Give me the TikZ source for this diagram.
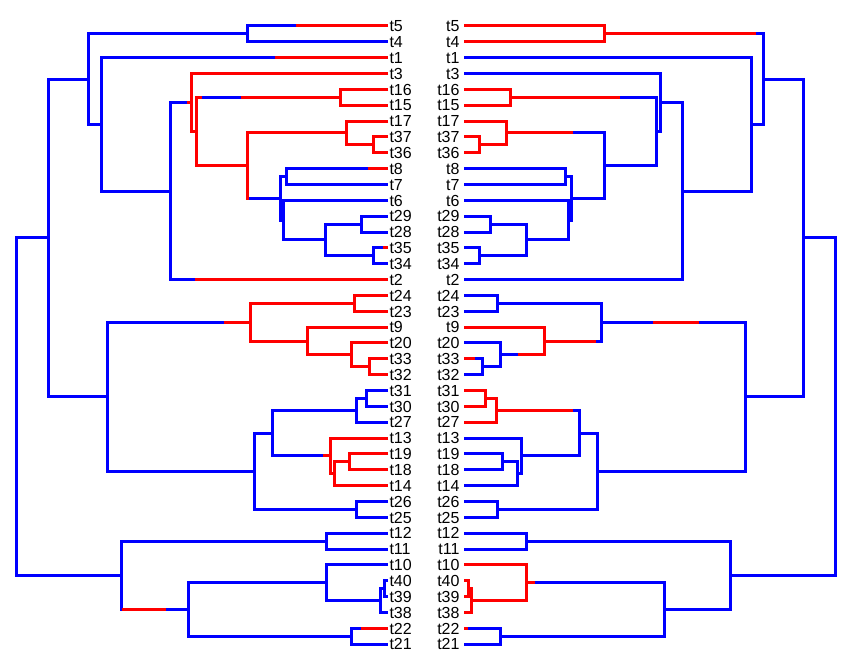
\documentclass[tikz,border=0pt]{standalone}
\usepackage{fontspec}
\setmainfont{Liberation Sans}
\usepackage{xcolor}
\usepackage{tikz}
\usetikzlibrary{calc}

\tikzset{
  br/.style={line width=3pt},
  lab/.style={font=\fontsize{16}{16}\selectfont, inner ysep=0pt, outer sep=0pt, text height=11.46pt, text depth=0pt},
}
% one internal node: child a, vertical bar, child b
\newcommand{\fork}[4]{\draw[br,#1] (#3) -- (#2 |- #3) -- (#2 |- #4) -- (#4);}

\begin{document}
\begin{tikzpicture}[x=1pt,y=-15.85pt]
	\useasboundingbox (0,-1.6404) rectangle (852,40.6940);
	% tip labels, both trees
	\foreach \tp [count=\i from 0] in {t5,t4,t1,t3,t16,t15,t17,t37,t36,t8,t7,t6,t29,t28,t35,t34,t2,t24,t23,t9,t20,t33,t32,t31,t30,t27,t13,t19,t18,t14,t26,t25,t12,t11,t10,t40,t39,t38,t22,t21}{
		\node[lab,anchor=west,inner xsep=1.5pt] (l\tp) at (388,\i) {\tp};
		\node[lab,anchor=east,inner xsep=4.5pt] (r\tp) at (464,\i) {\tp};
	}
	% left tree
	\coordinate (lroot) at (16.7,24.0142);
	\coordinate (lV) at (48.7,13.3721);
	\coordinate (lC) at (88,3.3535);
	\coordinate (l54) at (247,0.5);
	\coordinate (lB) at (101,6.2070);
	\coordinate (lX) at (170.7,10.4141);
	\coordinate (lG) at (191.7,4.8281);
	\coordinate (lH) at (196.7,6.6563);
	\coordinate (l1615) at (340.7,4.5);
	\coordinate (lM) at (247.3,8.8125);
	\coordinate (lN) at (346,6.75);
	\coordinate (l3736) at (373.3,7.5);
	\coordinate (lP) at (280,10.875);
	\coordinate (l87) at (286,9.5);
	\coordinate (lQ) at (283.3,12.25);
	\coordinate (lR) at (325,13.5);
	\coordinate (l2928) at (361,12.5);
	\coordinate (l3534) at (373.3,14.5);
	\coordinate (lU) at (107.3,23.3906);
	\coordinate (lS) at (250,18.6875);
	\coordinate (l2423) at (354.3,17.5);
	\coordinate (l9) at (307.3,19.875);
	\coordinate (l20) at (351,20.75);
	\coordinate (l3332) at (369.3,21.5);
	\coordinate (lT) at (254,28.0938);
	\coordinate (lW) at (272.7,25.6875);
	\coordinate (l27) at (356.7,24.25);
	\coordinate (l3130) at (366.7,23.5);
	\coordinate (l13) at (330,27.125);
	\coordinate (l14) at (334.3,28.25);
	\coordinate (l1918) at (349.3,27.5);
	\coordinate (l2625) at (356,30.5);
	\coordinate (lZ) at (121.7,34.6563);
	\coordinate (l1211) at (326,32.5);
	\coordinate (lY) at (188.3,36.8125);
	\coordinate (l10) at (326,35.125);
	\coordinate (l38) at (380.7,36.25);
	\coordinate (l4039) at (384,35.5);
	\coordinate (l2221) at (351.7,38.5);
	% right tree
	\coordinate (rroot) at (835,24.0142);
	\coordinate (rV) at (803.3,13.3721);
	\coordinate (rC) at (763.3,3.3535);
	\coordinate (r54) at (604.3,0.5);
	\coordinate (rB) at (751,6.2070);
	\coordinate (rX) at (682.3,10.4141);
	\coordinate (rG) at (660.7,4.8281);
	\coordinate (rH) at (656,6.6563);
	\coordinate (r1615) at (510.7,4.5);
	\coordinate (rM) at (604.3,8.8125);
	\coordinate (rN) at (506,6.75);
	\coordinate (r3736) at (479.3,7.5);
	\coordinate (rP) at (571.7,10.875);
	\coordinate (r87) at (565.7,9.5);
	\coordinate (rQ) at (568.3,12.25);
	\coordinate (rR) at (526.7,13.5);
	\coordinate (r2928) at (490.7,12.5);
	\coordinate (r3534) at (479,14.5);
	\coordinate (rU) at (745,23.3906);
	\coordinate (rS) at (601.7,18.6875);
	\coordinate (r2423) at (497.3,17.5);
	\coordinate (r9) at (544,19.875);
	\coordinate (r20) at (500,20.75);
	\coordinate (r3332) at (482.3,21.5);
	\coordinate (rT) at (597.7,28.0938);
	\coordinate (rW) at (579.3,25.6875);
	\coordinate (r27) at (496.3,24.25);
	\coordinate (r3130) at (485,23.5);
	\coordinate (r13) at (521.7,27.125);
	\coordinate (r14) at (517.3,28.25);
	\coordinate (r1918) at (502.7,27.5);
	\coordinate (r2625) at (497.3,30.5);
	\coordinate (rZ) at (730,34.6563);
	\coordinate (r1211) at (526,32.5);
	\coordinate (rY) at (664.3,36.8125);
	\coordinate (r10) at (526,35.125);
	\coordinate (r38) at (471.7,36.25);
	\coordinate (r4039) at (468.3,35.5);
	\coordinate (r2221) at (500.7,38.5);
	% same topology on both sides, all blue first
	\foreach \side in {l,r}{
		\foreach \nd/\ca/\cb in {root/V/Z, V/C/U, C/54/B, 54/t5/t4, B/t1/X, X/G/t2, G/t3/H, H/1615/M, 1615/t16/t15, M/N/P, N/t17/3736, 3736/t37/t36, P/87/Q, 87/t8/t7, Q/t6/R, R/2928/3534, 2928/t29/t28, 3534/t35/t34, U/S/T, S/2423/9, 2423/t24/t23, 9/t9/20, 20/t20/3332, 3332/t33/t32, T/W/2625, W/27/13, 27/3130/t27, 3130/t31/t30, 13/t13/14, 14/1918/t14, 1918/t19/t18, 2625/t26/t25, Z/1211/Y, 1211/t12/t11, Y/10/2221, 10/t10/38, 38/4039/t38, 4039/t40/t39, 2221/t22/t21}
			{\fork{blue}{\side\nd}{\side\ca}{\side\cb}}
	}
	% red subtrees
	\foreach \nd/\ca/\cb in {G/t3/H, H/1615/M, 1615/t16/t15, N/t17/3736, 3736/t37/t36, S/2423/9, 2423/t24/t23, 9/t9/20, 20/t20/3332, 3332/t33/t32, 13/t13/14, 14/1918/t14, 1918/t19/t18}
		{\fork{red}{l\nd}{l\ca}{l\cb}}
	\foreach \nd/\ca/\cb in {54/t5/t4, 1615/t16/t15, N/t17/3736, 3736/t37/t36, 9/t9/20, 27/3130/t27, 3130/t31/t30, 10/t10/38, 38/4039/t38, 4039/t40/t39}
		{\fork{red}{r\nd}{r\ca}{r\cb}}
	\draw[br,red,line cap=rect] (lN) -- (lM |- lN) -- (lM |- lP);
	% mixed branches
	\draw[br,red] (296,0 |- lt5) -- (lt5);
	\draw[br,red] (275,0 |- lt1) -- (lt1);
	\draw[br,red] (187,0 |- lG) -- (lG);
	\draw[br,red] (195,0 |- lt2) -- (lt2);
	\draw[br,blue] (201.7,0 |- l1615) -- (240.7,0 |- l1615);
	\draw[br,red] (368.3,0 |- lt8) -- (lt8);
	\draw[br,red] (383.3,0 |- lt35) -- (lt35);
	\draw[br,red] (224,0 |- lS) -- (lS);
	\draw[br,red] (323.3,0 |- l13) -- (l13);
	\draw[br,red] (lZ |- lY) -- (166,0 |- lY);
	\draw[br,red] (361,0 |- lt22) -- (lt22);
	\draw[br,red] (756,0 |- r54) -- (r54);
	\draw[br,red] (620,0 |- r1615) -- (r1615);
	\draw[br,red] (573.3,0 |- rN) -- (rN);
	\draw[br,red] (699.3,0 |- rS) -- (653.3,0 |- rS);
	\draw[br,red] (596,0 |- r9) -- (r9);
	\draw[br,blue] (518.3,0 |- r20) -- (r20);
	\draw[br,red] (475,0 |- rt33) -- (rt33);
	\draw[br,red] (573.3,0 |- r27) -- (r27);
	\draw[br,red] (535,0 |- r10) -- (r10);
	\draw[br,red] (468.3,0 |- rt22) -- (rt22);
\end{tikzpicture}
\end{document}
